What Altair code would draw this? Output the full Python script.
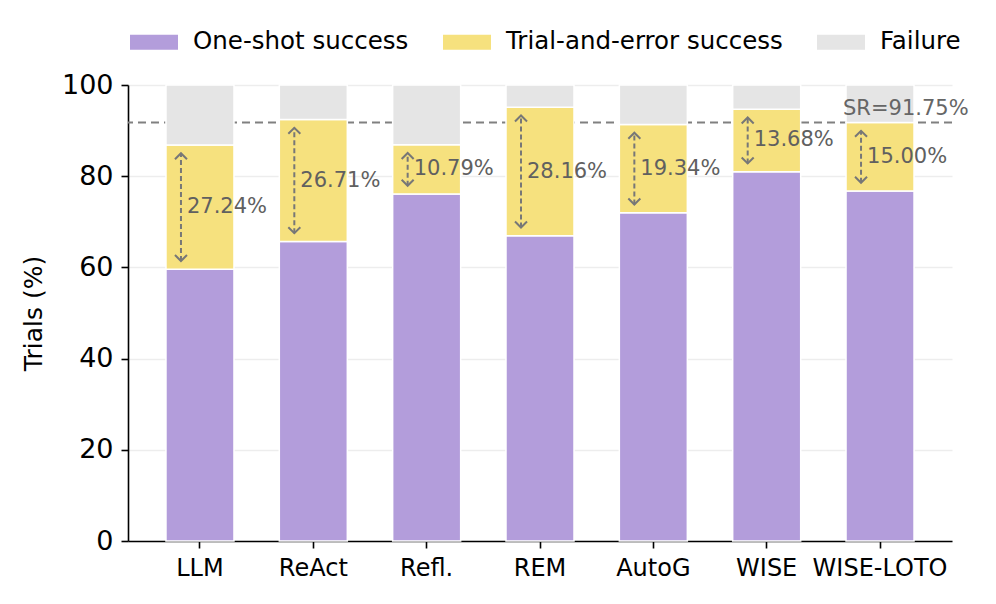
import altair as alt
import pandas as pd

methods = ["LLM", "ReAct", "Refl.", "REM", "AutoG", "WISE", "WISE-LOTO"]
one_shot = [59.6, 65.7, 76.1, 66.95, 72.0, 81.0, 76.75]
trial_gain = [27.24, 26.71, 10.79, 28.16, 19.34, 13.68, 15.00]
sr_value = 91.75
categories = ["One-shot success", "Trial-and-error success", "Failure"]
colors = ["#B39DDB", "#F6E17E", "#E5E5E5"]

rows = []
for m, o, t in zip(methods, one_shot, trial_gain):
    rows.append({"method": m, "cat": categories[0], "value": o, "order": 0})
    rows.append({"method": m, "cat": categories[1], "value": t, "order": 1})
    rows.append({"method": m, "cat": categories[2], "value": 100 - o - t, "order": 2})
stack_df = pd.DataFrame(rows)

ann_df = pd.DataFrame({"method": methods, "one": one_shot, "gain": trial_gain})
ann_df["label"] = [f"{g:.2f}%" for g in trial_gain]

xenc = alt.X(
    "method:N",
    sort=methods,
    title=None,
    scale=alt.Scale(paddingInner=0.4, paddingOuter=0.335),
    axis=alt.Axis(labelAngle=0, grid=False, labelPadding=8, labelFontSize=24),
)

sr_line = alt.Chart(pd.DataFrame({"v": [sr_value]})).mark_rule(
    color="#808080", strokeWidth=2, strokeDash=[8, 5]
).encode(y=alt.Y("v:Q"))

bars = alt.Chart(stack_df).mark_bar(stroke="white", strokeWidth=1.5).encode(
    x=xenc,
    y=alt.Y(
        "value:Q",
        stack="zero",
        title="Trials (%)",
        scale=alt.Scale(domain=[0, 100], nice=False),
        axis=alt.Axis(values=[0, 20, 40, 60, 80, 100], titlePadding=15,
                      labelPadding=8, labelFontSize=27, titleFontSize=25),
    ),
    color=alt.Color(
        "cat:N",
        sort=categories,
        scale=alt.Scale(domain=categories, range=colors),
        legend=alt.Legend(
            title=None,
            orient="none",
            legendX=2,
            legendY=-67,
            direction="horizontal",
            symbolType="M-1,-0.3125H1V0.3125H-1Z",
            symbolSize=2304,
            symbolStrokeWidth=0,
            labelFontSize=24.5,
            labelLimit=600,
            labelOffset=15,
            columnPadding=34,
            labelFont="DejaVu Sans",
            labelColor="black",
        ),
    ),
    order=alt.Order("order:Q"),
)

base_ann = alt.Chart(ann_df).transform_calculate(
    hi="datum.one + datum.gain - 1.8",
    lo="datum.one + 1.8",
    mid="datum.one + datum.gain / 2",
)

arrow_stem = base_ann.mark_rule(
    color="#777777", strokeWidth=2, strokeDash=[5, 3], xOffset=-19
).encode(x=alt.X("method:N", sort=methods), y="lo:Q", y2="hi:Q")

arrow_up = base_ann.mark_point(
    shape="M-1,1L0,0L1,1", size=144, filled=False, stroke="#777777",
    strokeWidth=2, xOffset=-19, opacity=1
).encode(x=alt.X("method:N", sort=methods), y="hi:Q")

arrow_down = base_ann.mark_point(
    shape="M-1,-1L0,0L1,-1", size=144, filled=False, stroke="#777777",
    strokeWidth=2, xOffset=-19, opacity=1
).encode(x=alt.X("method:N", sort=methods), y="lo:Q")

labels = base_ann.mark_text(
    align="left", baseline="middle", xOffset=-13, fontSize=21,
    font="DejaVu Sans", color="#606060"
).encode(x=alt.X("method:N", sort=methods), y="mid:Q", text="label:N")

sr_text = alt.Chart(
    pd.DataFrame({"method": ["WISE-LOTO"], "v": [sr_value], "t": [f"SR={sr_value:.2f}%"]})
).mark_text(
    align="left", baseline="alphabetic", xOffset=-37, dy=-8, fontSize=21,
    font="DejaVu Sans", color="#666666"
).encode(x=alt.X("method:N", sort=methods), y="v:Q", text="t:N")

chart = alt.layer(
    sr_line, bars, arrow_stem, arrow_up, arrow_down, labels, sr_text
).properties(
    width=824,
    height=456,
    autosize=alt.AutoSizeParams(type="none"),
    padding={"left": 120, "top": 77, "right": 36, "bottom": 56},
).configure_view(stroke=None).configure_axis(
    domainColor="black",
    domainWidth=1.6,
    tickColor="black",
    tickWidth=1.6,
    tickSize=7,
    labelFont="DejaVu Sans",
    labelColor="black",
    titleFont="DejaVu Sans",
    titleFontWeight="normal",
    titleColor="black",
    gridColor="#EDEDED",
    gridWidth=1.5,
).configure_axisY(grid=True)

chart.save("out.html", embed_options={"renderer": "svg", "actions": False})
